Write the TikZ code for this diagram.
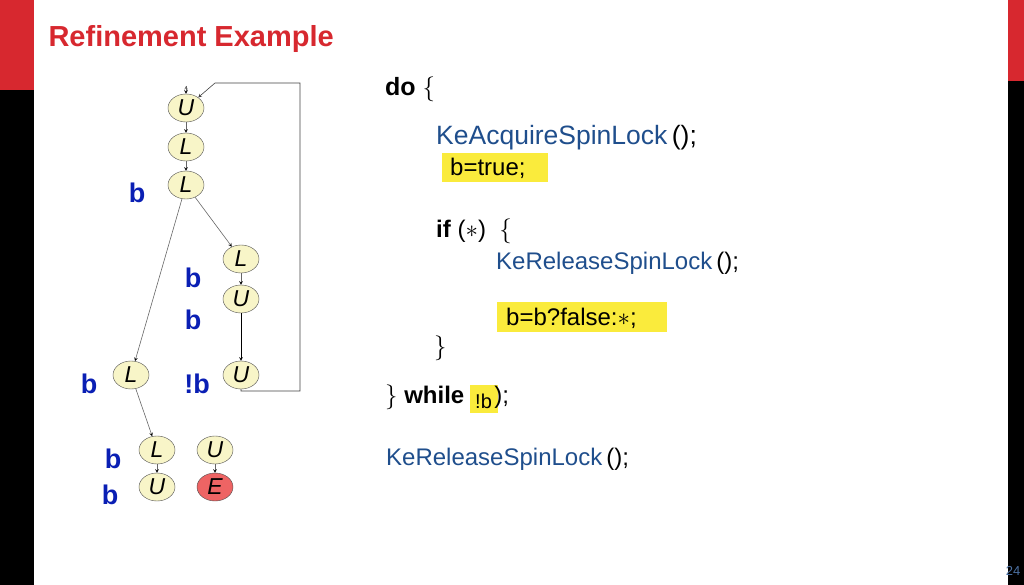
\documentclass[tikz,border=0pt]{standalone}
\usepackage{fontspec}
\setmainfont{Liberation Sans}
\usepackage{amsmath,amssymb}
\usetikzlibrary{shapes.geometric}
\definecolor{slidered}{HTML}{D7282F}
\definecolor{codeblue}{HTML}{1F4E8C}
\definecolor{labelblue}{HTML}{0A1FB4}
\definecolor{nodefill}{HTML}{F8F5C8}
\definecolor{errfill}{HTML}{EE6464}
\definecolor{marker}{HTML}{FAEB3C}
\begin{document}
\begin{tikzpicture}[x=1pt, y=-1pt, >=stealth,
                    state node/.style={ellipse,draw=black!70,fill=nodefill,minimum width=36pt,minimum height=28pt,inner sep=0pt,font=\fontsize{23}{23}\selectfont\itshape},
                    pred/.style={text=labelblue,font=\fontsize{27}{27}\selectfont\bfseries},
                    code/.style={anchor=base west,inner sep=0pt,font=\fontsize{26.5}{26.5}\selectfont},
                    hl/.style={fill=marker,draw=none}]
  \useasboundingbox (0,0) rectangle (1024,585);

  % slide frame
  \fill[black] (0,0) rectangle (34,585);
  \fill[slidered] (0,0) rectangle (34,90);
  \fill[black] (1008,0) rectangle (1024,585);
  \fill[slidered] (1008,0) rectangle (1024,81);
  \node[anchor=west,text=slidered,font=\fontsize{29}{29}\selectfont\bfseries] (title) at (45,39) {Refinement Example};
  \node[text=codeblue!80,font=\fontsize{13}{13}\selectfont] (page) at (1013,571) {24};

  % abstract tree
  \node[state node] (u1) at (186,108) {U};
  \node[state node] (l1) at (186,147) {L};
  \node[state node] (l2) at (186,185) {L};
  \node[state node] (l3) at (241,259) {L};
  \node[state node] (u2) at (241,299) {U};
  \node[state node] (u3) at (241,375) {U};
  \node[state node] (l4) at (131,375) {L};
  \node[state node] (l5) at (157,450) {L};
  \node[state node] (u4) at (157,487) {U};
  \node[state node] (u5) at (215,450) {U};
  \node[state node,fill=errfill] (e) at (215,487) {E};
  \coordinate (start) at (186,86);
  \coordinate (back) at (241,391);
  \coordinate (corner) at (300,391);
  \coordinate (top) at (300,83);
  \coordinate (entry) at (215,83);

  \path[->,draw=black!60,semithick]
  (start) edge (u1)
  (u1) edge (l1)
  (l1) edge (l2)
  (l2) edge (l3)
  (l2) edge (l4)
  (l3) edge (u2)
  (u2) edge[black] (u3)
  (l4) edge (l5)
  (l5) edge (u4)
  (u5) edge (e)
  ;
  \draw[->,black!75,semithick] (u3) -- (back) -- (corner) -- (top) -- (entry) -- (u1);

  \node[pred] (p1) at (137,193) {b};
  \node[pred] (p2) at (193,278) {b};
  \node[pred] (p3) at (193,320) {b};
  \node[pred] (p4) at (89,384) {b};
  \node[pred] (p5) at (197,384) {!b};
  \node[pred] (p6) at (113,459) {b};
  \node[pred] (p7) at (110,495) {b};

  % program text
  \fill[hl] (442,153) rectangle (548,182);
  \fill[hl] (497,302) rectangle (667,332);
  \fill[hl] (470,385) rectangle (498,413);
  \node[code,font=\fontsize{25}{25}\selectfont\bfseries] (do) at (385,96) {do $\{$};
  \node[code,text=codeblue] (acq) at (436,145) {KeAcquireSpinLock\,\textcolor{black}{();}};
  \node[code,font=\fontsize{24}{24}\selectfont] (btrue) at (450,176) {b=true;};
  \node[code,font=\fontsize{24}{24}\selectfont] (if) at (436,237) {\textbf{if} ($*$)~ $\{$};
  \node[code,text=codeblue,font=\fontsize{24}{24}\selectfont] (rel1) at (496,269) {KeReleaseSpinLock\,\textcolor{black}{();}};
  \node[code,font=\fontsize{24}{24}\selectfont] (bupd) at (506,325) {b=b?false:$*$;};
  \node[code,font=\fontsize{24}{24}\selectfont] (ifend) at (434,354) {$\}$};
  \node[code,font=\fontsize{24}{24}\selectfont] (while) at (385,403) {$\}$ \textbf{while}\hspace{30pt});};
  \node[code,font=\fontsize{20}{20}\selectfont] (nb) at (475,408) {!b};
  \node[code,text=codeblue,font=\fontsize{24}{24}\selectfont] (rel2) at (386,465) {KeReleaseSpinLock\,\textcolor{black}{();}};
\end{tikzpicture}
\end{document}
